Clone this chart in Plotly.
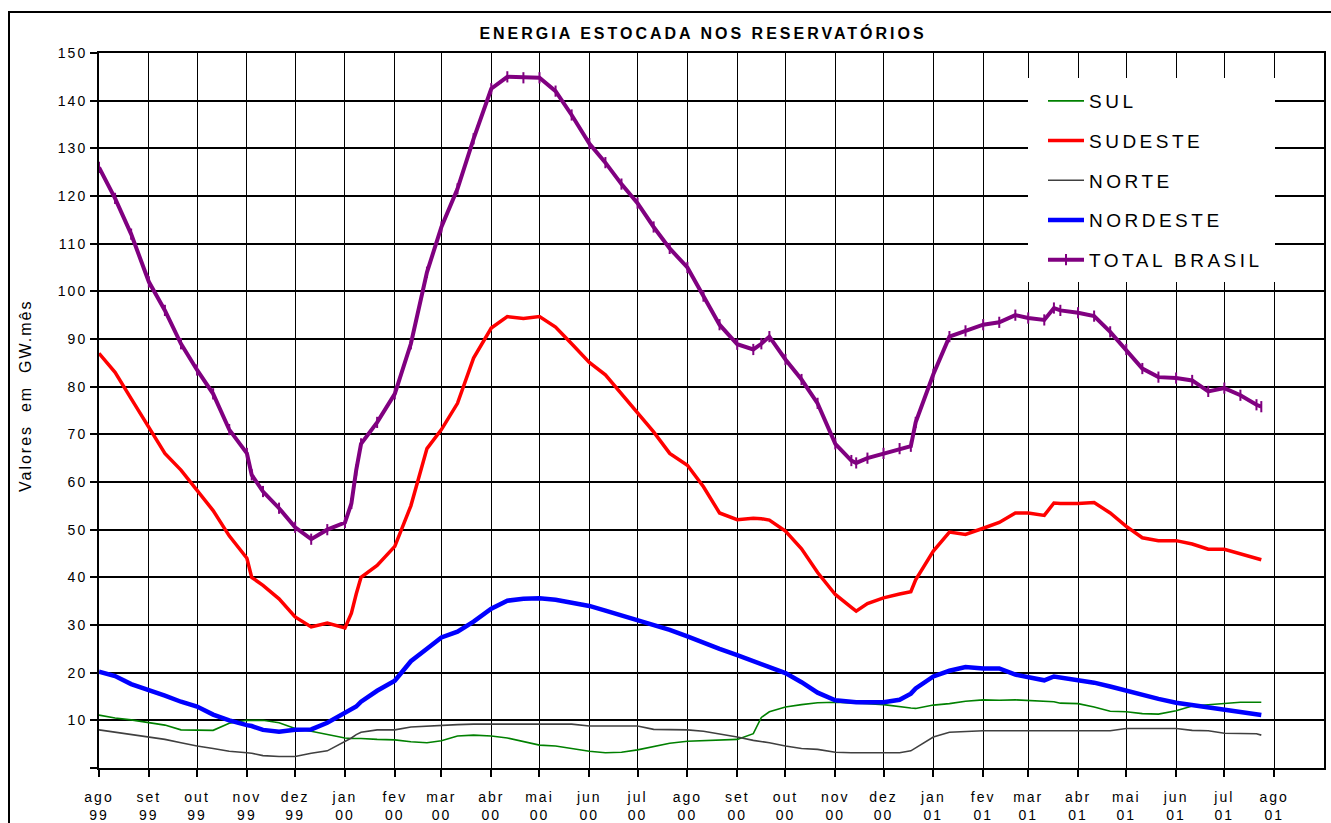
import plotly.graph_objects as go

dates = [
    "1999-08-01", "1999-08-11", "1999-08-21", "1999-09-01", "1999-09-11", "1999-09-21",
    "1999-10-01", "1999-10-11", "1999-10-21", "1999-11-01", "1999-11-04", "1999-11-11",
    "1999-11-21", "1999-12-01", "1999-12-11", "1999-12-21",
    "2000-01-01", "2000-01-05", "2000-01-08", "2000-01-11", "2000-01-21", "2000-02-01",
    "2000-02-11", "2000-02-21", "2000-03-01", "2000-03-11", "2000-03-21", "2000-04-01",
    "2000-04-11", "2000-04-21", "2000-05-01", "2000-05-11", "2000-05-21", "2000-06-01",
    "2000-06-11", "2000-06-21", "2000-07-01", "2000-07-11", "2000-07-21", "2000-08-01",
    "2000-08-11", "2000-08-21", "2000-09-01", "2000-09-11", "2000-09-16", "2000-09-21",
    "2000-10-01", "2000-10-11", "2000-10-21", "2000-11-01", "2000-11-11", "2000-11-14",
    "2000-11-21", "2000-12-01", "2000-12-11", "2000-12-18", "2000-12-21",
    "2001-01-01", "2001-01-11", "2001-01-21", "2001-02-01", "2001-02-11", "2001-02-21",
    "2001-03-01", "2001-03-11", "2001-03-17", "2001-03-21", "2001-04-01", "2001-04-11",
    "2001-04-21", "2001-05-01", "2001-05-11", "2001-05-21", "2001-06-01", "2001-06-11",
    "2001-06-21", "2001-07-01", "2001-07-11", "2001-07-21", "2001-07-24",
]

sul = [
    11.1, 10.5, 10.1, 9.5, 9.0, 8.0, 8.0, 7.9, 9.4, 10.0, 10.0, 10.0,
    9.5, 8.3, 7.7, 7.0,
    6.3, 6.2, 6.2, 6.2, 6.0, 5.9, 5.5, 5.3, 5.7, 6.7, 6.9, 6.7,
    6.3, 5.6, 4.8, 4.6, 4.0, 3.5, 3.2, 3.3, 3.8, 4.5, 5.2, 5.6,
    5.7, 5.9, 6.0, 7.2, 10.6, 11.8, 12.8, 13.3, 13.7, 13.8, 13.7, 13.7,
    13.5, 13.3, 12.8, 12.6, 12.5,
    13.2, 13.5, 14.0, 14.3, 14.2, 14.3, 14.2, 14.0, 13.9, 13.6, 13.5, 12.8,
    11.9, 11.8, 11.4, 11.3, 12.0, 13.0, 13.3, 13.6, 13.8, 13.8, 13.8,
]

sudeste = [
    87.0, 83.0, 77.5, 71.5, 66.0, 62.5, 58.3, 54.0, 48.7, 44.0, 40.0, 38.3,
    35.5, 31.7, 29.6, 30.4,
    29.4, 32.5, 36.5, 40.0, 42.5, 46.5, 55.0, 67.0, 71.0, 76.5, 86.0, 92.3,
    94.7, 94.3, 94.7, 92.5, 89.0, 85.1, 82.5, 78.5, 74.7, 70.5, 66.0, 63.5,
    59.0, 53.5, 52.1, 52.4, 52.3, 52.0, 49.7, 46.0, 41.0, 36.4, 33.7, 32.9,
    34.5, 35.7, 36.5, 37.0, 39.5,
    45.5, 49.5, 49.0, 50.3, 51.5, 53.5, 53.5, 53.0, 55.6, 55.5, 55.5, 55.7,
    53.5, 50.7, 48.3, 47.7, 47.7, 47.0, 45.9, 45.9, 45.0, 44.0, 43.7,
]

norte = [
    8.0, 7.5, 7.0, 6.4, 6.0, 5.3, 4.6, 4.1, 3.5, 3.2, 3.1, 2.6,
    2.4, 2.4, 3.1, 3.6,
    5.5, 6.3, 7.0, 7.5, 8.0, 8.0, 8.6, 8.8, 8.9, 9.1, 9.2, 9.2,
    9.2, 9.2, 9.2, 9.2, 9.2, 8.8, 8.8, 8.8, 8.8, 8.1, 8.0, 8.0,
    7.7, 7.2, 6.5, 5.8, 5.6, 5.3, 4.6, 4.1, 3.9, 3.3, 3.2, 3.2,
    3.2, 3.2, 3.2, 3.6, 4.2,
    6.5, 7.5, 7.7, 7.8, 7.8, 7.8, 7.8, 7.8, 7.8, 7.8, 7.8, 7.8,
    7.8, 8.3, 8.3, 8.2, 8.3, 7.9, 7.8, 7.3, 7.2, 7.2, 6.9,
]

nordeste = [
    20.2, 19.3, 17.6, 16.4, 15.2, 13.9, 12.9, 11.2, 10.0, 9.0, 8.8, 8.0,
    7.6, 8.0, 8.1, 9.5,
    11.6, 12.2, 12.9, 13.9, 16.2, 18.3, 22.4, 25.0, 27.4, 28.6, 30.7, 33.4,
    35.1, 35.5, 35.6, 35.3, 34.6, 34.0, 33.0, 32.0, 31.0, 30.0, 29.0, 27.6,
    26.2, 25.0, 23.7, 22.5, 21.8, 21.2, 19.9, 18.0, 15.8, 14.2, 13.8, 13.8,
    13.8, 13.8, 14.3, 15.6, 16.7,
    19.2, 20.4, 21.2, 20.9, 20.9, 19.6, 19.0, 18.4, 19.2, 19.0, 18.6, 17.9,
    17.1, 16.2, 15.3, 14.5, 13.7, 13.2, 12.8, 12.2, 11.7, 11.2, 11.1,
]

total_brasil = [
    126.0, 119.5, 112.0, 102.0, 96.0, 89.0, 83.5, 78.5, 71.0, 66.0, 61.5, 58.0,
    54.5, 50.5, 48.0, 50.0,
    51.5, 55.5, 62.5, 68.0, 72.5, 78.5, 89.0, 104.0, 113.5, 121.5, 132.0, 142.5,
    145.0, 144.8, 144.8, 142.0, 137.0, 131.0, 127.0, 122.5, 118.5, 113.5, 109.0, 105.0,
    99.0, 93.0, 88.9, 87.8, 89.0, 90.5, 85.7, 81.5, 76.5, 68.0, 64.5, 64.0,
    65.0, 66.0, 67.0, 67.5, 72.5,
    82.6, 90.5, 91.7, 93.0, 93.5, 95.0, 94.4, 94.0, 96.5, 96.0, 95.5, 94.8,
    91.5, 87.8, 83.8, 82.0, 81.8, 81.3, 79.0, 79.7, 78.2, 76.2, 75.8,
]

tick_dates = [
    "1999-08-01", "1999-09-01", "1999-10-01", "1999-11-01", "1999-12-01",
    "2000-01-01", "2000-02-01", "2000-03-01", "2000-04-01", "2000-05-01",
    "2000-06-01", "2000-07-01", "2000-08-01", "2000-09-01", "2000-10-01",
    "2000-11-01", "2000-12-01", "2001-01-01", "2001-02-01", "2001-03-01",
    "2001-04-01", "2001-05-01", "2001-06-01", "2001-07-01", "2001-08-01",
]
tick_months = ["ago", "set", "out", "nov", "dez", "jan", "fev", "mar", "abr", "mai",
               "jun", "jul", "ago", "set", "out", "nov", "dez", "jan", "fev", "mar",
               "abr", "mai", "jun", "jul", "ago"]
tick_years = ["99", "99", "99", "99", "99", "00", "00", "00", "00", "00",
              "00", "00", "00", "00", "00", "00", "00", "01", "01", "01",
              "01", "01", "01", "01", "01"]
y_ticks = [0, 10, 20, 30, 40, 50, 60, 70, 80, 90, 100, 110, 120, 130, 140, 150]
y_labels = ["", "10", "20", "30", "40", "50", "60", "70", "80", "90",
            "100", "110", "120", "130", "140", "150"]

FONT = "Liberation Sans, Arial, sans-serif"


def spaced(text, px):
    return '<span style="letter-spacing:%spx">%s</span>' % (px, text)


x_ticktext = [spaced(m, 2) + "<br>" + spaced(y, 2) for m, y in zip(tick_months, tick_years)]
y_ticktext = [spaced(t, 2) if t else "" for t in y_labels]

# plot area at x 99..1324, y 53..768 of the 1331x823 window
W, H = 1331, 823
ML, MR, MT, MB = 99, 7, 53, 55
PW = W - ML - MR
PH = H - MT - MB


def px(sx):
    return (sx - ML) / PW


def py(sy):
    return (H - MB - sy) / PH


fig = go.Figure()
fig.add_trace(go.Scatter(x=dates, y=sul, name=spaced("SUL", 3.5), mode="lines",
                         line=dict(color="#008000", width=1.6), legendgroup="a"))
fig.add_trace(go.Scatter(x=dates, y=sudeste, name=spaced("SUDESTE", 3.5), mode="lines",
                         line=dict(color="#ff0000", width=3.5), legendgroup="b"))
fig.add_trace(go.Scatter(x=dates, y=norte, name=spaced("NORTE", 3.5), mode="lines",
                         line=dict(color="#404040", width=1.6), legendgroup="c"))
fig.add_trace(go.Scatter(x=dates, y=nordeste, name=spaced("NORDESTE", 3.5), mode="lines",
                         line=dict(color="#0000ff", width=4.5), legendgroup="d"))
fig.add_trace(go.Scatter(x=dates, y=total_brasil, name=spaced("TOTAL BRASIL", 3.5),
                         mode="lines+markers",
                         line=dict(color="#800080", width=4),
                         marker=dict(symbol="line-ns", size=8,
                                     line=dict(color="#800080", width=2)),
                         legendgroup="e"))

fig.update_layout(
    width=W, height=H,
    margin=dict(l=ML, r=MR, t=MT, b=MB),
    paper_bgcolor="white", plot_bgcolor="white",
    font=dict(family=FONT, color="black"),
    title=dict(text="<b>" + spaced("ENERGIA ESTOCADA NOS RESERVATÓRIOS", 3) + "</b>",
               x=px(703), xref="paper", xanchor="center",
               y=1 - 33 / H, yref="container", yanchor="middle",
               font=dict(size=16, family=FONT, color="black")),
    showlegend=True,
    legend=dict(x=px(1043), y=py(82), xanchor="left", yanchor="top",
                bgcolor="rgba(255,255,255,0)", borderwidth=0,
                font=dict(size=19, family=FONT, color="black"),
                tracegroupgap=12, itemwidth=36),
    xaxis=dict(type="date", range=["1999-08-01", "2001-09-01"],
               tickmode="array", tickvals=tick_dates, ticktext=x_ticktext,
               tickangle=0, ticklabelstandoff=8, automargin=False,
               ticks="outside", ticklen=7, tickwidth=1.5, tickcolor="black",
               showgrid=True, gridcolor="black", gridwidth=1,
               showline=True, linecolor="black", linewidth=2, mirror=True,
               zeroline=False,
               tickfont=dict(size=14, family=FONT, color="black")),
    yaxis=dict(range=[0, 150], tickmode="array", tickvals=y_ticks, ticktext=y_ticktext,
               automargin=False,
               ticks="outside", ticklen=7, tickwidth=1.5, tickcolor="black",
               showgrid=True, gridcolor="black", gridwidth=1.5,
               showline=True, linecolor="black", linewidth=2, mirror=True,
               zeroline=False,
               tickfont=dict(size=14, family=FONT, color="black")),
)

fig.add_annotation(text=spaced("Valores  em  GW.mês", 2), textangle=-90,
                   xref="paper", yref="paper",
                   x=px(25), y=py(396),
                   xanchor="center", yanchor="middle", showarrow=False,
                   font=dict(size=16, family=FONT, color="black"))

# white legend panel
fig.add_shape(type="rect", xref="paper", yref="paper",
              x0=px(1028), x1=px(1275), y0=py(282), y1=py(78),
              line=dict(width=0), fillcolor="white", layer="above")

# outer chart frame
fig.add_shape(type="rect", xref="paper", yref="paper",
              x0=px(9), x1=px(1345), y0=py(845), y1=py(12),
              line=dict(color="black", width=2), fillcolor="rgba(0,0,0,0)",
              layer="below")

# remove the default page margin so the figure sits at the window origin
fig.write_html("out.html", config={"displayModeBar": False},
               post_script="document.body.style.margin='0';")
